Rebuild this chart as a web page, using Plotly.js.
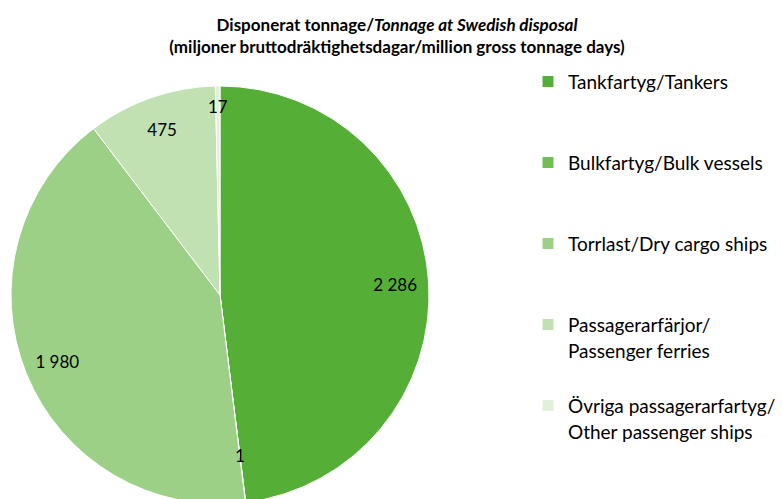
<!DOCTYPE html>
<html>
<head>
<meta charset="utf-8">
<script src="https://cdn.plot.ly/plotly-3.0.1.min.js"></script>
<style>
html, body { margin: 0; padding: 0; overflow: hidden; background: #fff; }
#chart { width: 782px; height: 520px; }
</style>
</head>
<body>
<div id="chart"></div>
<script>
const categories = [
  "Tankfartyg/Tankers",
  "Bulkfartyg/Bulk vessels",
  "Torrlast/Dry cargo ships",
  "Passagerarfärjor/<br>Passenger ferries",
  "Övriga passagerarfartyg/<br>Other passenger ships"
];
const values = [2286, 1, 1980, 475, 17];
const colors = ["#55ae36", "#72bd55", "#9dd087", "#c1e1b2", "#e0f0d9"];
const legendPad = ["<br> <br> ", "<br> <br> ", "<br> <br> ", "<br> ", ""];

const legendLabels = categories.map((c, i) =>
  c.split("<br>").map(s => '<span style="font-size:19px">' + s + "</span>").join("<br>") + legendPad[i]
);

// pie centred in a 420px square at the left of the plot area
const plotW = 772, plotH = 420, cx = 210, cy = 210;
function domainFor(r) {
  return { x: [(cx - r) / plotW, (cx + r) / plotW], y: [(cy - r) / plotH, (cy + r) / plotH] };
}

const font = "Lato, 'Open Sans', sans-serif";
const transparent = values.map(() => "rgba(0,0,0,0)");

const baseTrace = {
  type: "pie",
  labels: legendLabels,
  values: values,
  sort: false,
  direction: "clockwise",
  rotation: 0,
  marker: { colors: colors, line: { color: "#ffffff", width: 1 } },
  textinfo: "none",
  hoverinfo: "label+value",
  domain: domainFor(209),
  showlegend: true
};

function labelTrace(radius, hole, positions) {
  return {
    type: "pie",
    labels: categories,
    values: values,
    sort: false,
    direction: "clockwise",
    rotation: 0,
    hole: hole,
    marker: { colors: transparent, line: { width: 0 } },
    texttemplate: "%{value:,}",
    textposition: positions,
    insidetextorientation: "horizontal",
    textfont: { family: font, size: 17, color: "#000000" },
    hoverinfo: "skip",
    domain: domainFor(radius),
    showlegend: false
  };
}

const bigLabels = labelTrace(209, 0.68, ["inside", "none", "inside", "inside", "none"]);
const label17 = labelTrace(191, 0, ["none", "none", "none", "none", "inside"]);
const label1 = labelTrace(162, 0, ["none", "inside", "none", "none", "none"]);

const layout = {
  width: 782,
  height: 520,
  margin: { l: 10, r: 0, t: 85, b: 15, autoexpand: false },
  paper_bgcolor: "#ffffff",
  separators: ", ",
  font: { family: font, color: "#000000" },
  uniformtext: { mode: "show", minsize: 17 },
  title: {
    text: "<b>Disponerat tonnage/<i>Tonnage at Swedish disposal</i></b><br><b>(miljoner bruttodräktighetsdagar/million gross tonnage days)</b>",
    font: { family: font, size: 17, color: "#000000" },
    xref: "container",
    yref: "container",
    x: 397 / 782,
    xanchor: "center",
    y: 1 - 31 / 520,
    yanchor: "top"
  },
  legend: {
    xref: "container",
    yref: "container",
    x: 528 / 782,
    xanchor: "left",
    y: 1 - 62 / 520,
    yanchor: "top",
    valign: "top",
    maxheight: 480,
    font: { family: font, size: 20, color: "#000000" },
    bgcolor: "rgba(0,0,0,0)",
    traceorder: "normal"
  },
  showlegend: true
};

Plotly.newPlot("chart", [baseTrace, bigLabels, label17, label1], layout, { displayModeBar: false, staticPlot: true });
</script>
</body>
</html>
